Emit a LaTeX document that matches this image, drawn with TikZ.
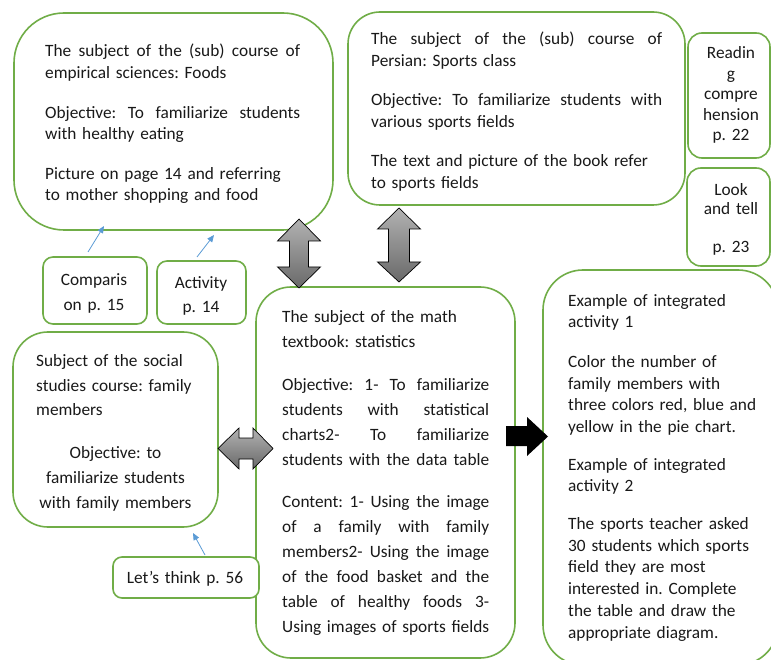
\documentclass[tikz,border=0pt]{standalone}
\usepackage{fontspec}
\setmainfont{Carlito}
\usetikzlibrary{arrows.meta}
\definecolor{boxgreen}{RGB}{112,173,71}
\definecolor{linkblue}{RGB}{91,155,213}
\definecolor{arrtop}{RGB}{178,178,178}
\definecolor{arrbot}{RGB}{105,105,105}
\definecolor{txt}{RGB}{25,25,25}
\newcommand\jline[2]{\leavevmode\hbox to #1{\spaceskip=\fontdimen2\font plus 1fil\relax #2}}
\frenchspacing
\begin{document}
\begin{tikzpicture}[x=1pt,y=-1pt,
  greenbox/.style={draw=boxgreen, line width=1.6pt, fill=white, inner sep=0pt},
  txtblock/.style={inner sep=0pt, anchor=base west, align=left, text=txt},
  ctrblock/.style={inner sep=0pt, anchor=base, align=center, text=txt},
  grayarrow/.style={draw=black, line width=0.7pt, top color=arrtop, bottom color=arrbot, line join=miter},
  link/.style={draw=linkblue, line width=0.8pt, -{Triangle[length=7pt,width=6pt]}}
]
\useasboundingbox (0,0) rectangle (771,660);
\clip (0,0) rectangle (771,660);

% ---------- boxes ----------
\node[greenbox, rounded corners=50pt, minimum width=319pt, minimum height=217pt] (foods) at (173.5,121.5) {};
\node[greenbox, rounded corners=32pt, minimum width=337pt, minimum height=193pt] (persian) at (516.5,108.5) {};
\node[greenbox, rounded corners=14pt, minimum width=82pt, minimum height=125pt] (reading) at (729,95.5) {};
\node[greenbox, rounded corners=14pt, minimum width=83pt, minimum height=98pt] (look) at (728.5,217) {};
\node[greenbox, rounded corners=10pt, minimum width=104pt, minimum height=67pt] (comparis) at (95,290.5) {};
\node[greenbox, rounded corners=10pt, minimum width=89pt, minimum height=63pt] (activity) at (201.5,292.5) {};
\node[greenbox, rounded corners=35pt, minimum width=205pt, minimum height=195pt] (social) at (115.5,429.5) {};
\node[greenbox, rounded corners=35pt, minimum width=259pt, minimum height=371pt] (math) at (385.5,472.5) {};
\node[greenbox, rounded corners=40pt, minimum width=235pt, minimum height=395pt] (example) at (660.5,467.5) {};
\node[greenbox, rounded corners=9pt, minimum width=146pt, minimum height=41pt] (lets) at (186,577.5) {};

% ---------- texts ----------
\node[txtblock, text width=255pt, font=\fontsize{17.3pt}{21.6pt}\selectfont] (foodstext) at (45,57)
 {\jline{255pt}{The subject of the (sub) course of}\\
  empirical sciences: Foods\\[18pt]
  \jline{255pt}{Objective: To familiarize students}\\
  with healthy eating\\[18pt]
  Picture on page 14 and referring\\
  to mother shopping and food};

\node[txtblock, text width=291pt, font=\fontsize{17.3pt}{22pt}\selectfont] (persiantext) at (371,45)
 {\jline{291pt}{The subject of the (sub) course of}\\
  Persian: Sports class\\[17pt]
  \jline{291pt}{Objective: To familiarize students with}\\
  various sports fields\\[17pt]
  The text and picture of the book refer\\
  to sports fields};

\node[ctrblock, text width=80pt, font=\fontsize{17.3pt}{20.5pt}\selectfont] (readingtext) at (731,59)
 {Readin\\ g\\ compre\\ hension\\ p. 22};

\node[ctrblock, text width=80pt, font=\fontsize{17.3pt}{19pt}\selectfont] (looktext) at (731,196)
 {Look\\ and tell\\[19pt] p. 23};

\node[ctrblock, text width=100pt, font=\fontsize{17.3pt}{25pt}\selectfont] (comparistext) at (94,286)
 {Comparis\\ on p. 15};

\node[ctrblock, text width=88pt, font=\fontsize{17.3pt}{24pt}\selectfont] (activitytext) at (201,289)
 {Activity\\ p. 14};

\node[txtblock, text width=180pt, font=\fontsize{17.3pt}{25pt}\selectfont] (socialtext) at (36,366)
 {Subject of the social\\ studies course: family\\ members};
\node[ctrblock, text width=190pt, font=\fontsize{17.3pt}{25pt}\selectfont] (socialobj) at (115.5,458)
 {Objective: to\\ familiarize students\\ with family members};

\node[txtblock, text width=207pt, font=\fontsize{17.3pt}{25pt}\selectfont] (mathtext) at (282,323)
 {The subject of the math\\
  textbook: statistics\\[18pt]
  \jline{207pt}{Objective: 1- To familiarize}\\
  \jline{207pt}{students with statistical}\\
  \jline{207pt}{charts2- To familiarize}\\
  \jline{207pt}{students with the data table}\\[17pt]
  \jline{207pt}{Content: 1- Using the image}\\
  \jline{207pt}{of a family with family}\\
  \jline{207pt}{members2- Using the image}\\
  \jline{207pt}{of the food basket and the}\\
  \jline{207pt}{table of healthy foods 3-}\\
  \jline{207pt}{Using images of sports fields}};

\node[txtblock, text width=200pt, font=\fontsize{17.3pt}{21.7pt}\selectfont] (exampletext) at (568,306)
 {Example of integrated\\
  activity 1\\[18pt]
  Color the number of\\
  family members with\\
  three colors red, blue and\\
  yellow in the pie chart.\\[16pt]
  Example of integrated\\
  activity 2\\[16pt]
  The sports teacher asked\\
  30 students which sports\\
  field they are most\\
  interested in. Complete\\
  the table and draw the\\
  appropriate diagram.};

\node[ctrblock, text width=140pt, font=\fontsize{17.3pt}{22pt}\selectfont] (letstext) at (185,583) {Let’s think p. 56};

% ---------- blue links ----------
\coordinate (c1s) at (88,252);  \coordinate (c1e) at (104,226);
\coordinate (c2s) at (197,257); \coordinate (c2e) at (214,235);
\coordinate (c3s) at (205,555); \coordinate (c3e) at (193,533);
\draw[link] (c1s) -- (c1e);
\draw[link] (c2s) -- (c2e);
\draw[link] (c3s) -- (c3e);

% ---------- block arrows ----------
\path[grayarrow] (299,219) -- (320.5,241) -- (308.5,241) -- (308.5,267) -- (320.5,267) -- (299,288)
  -- (277.5,267) -- (289.5,267) -- (289.5,241) -- (277.5,241) -- cycle;
\path[grayarrow] (399,208) -- (420.5,229) -- (409.5,229) -- (409.5,262) -- (420.5,262) -- (399,282)
  -- (377.5,262) -- (388.5,262) -- (388.5,229) -- (377.5,229) -- cycle;
\path[grayarrow] (218,448.5) -- (239,428) -- (239,438) -- (253,438) -- (253,428) -- (273,448.5)
  -- (253,469) -- (253,459) -- (239,459) -- (239,469) -- cycle;
\path[fill=black] (506,426) -- (527,426) -- (527,417) -- (548,436.5) -- (527,456) -- (527,446)
  -- (506,446) -- cycle;
\end{tikzpicture}
\end{document}
